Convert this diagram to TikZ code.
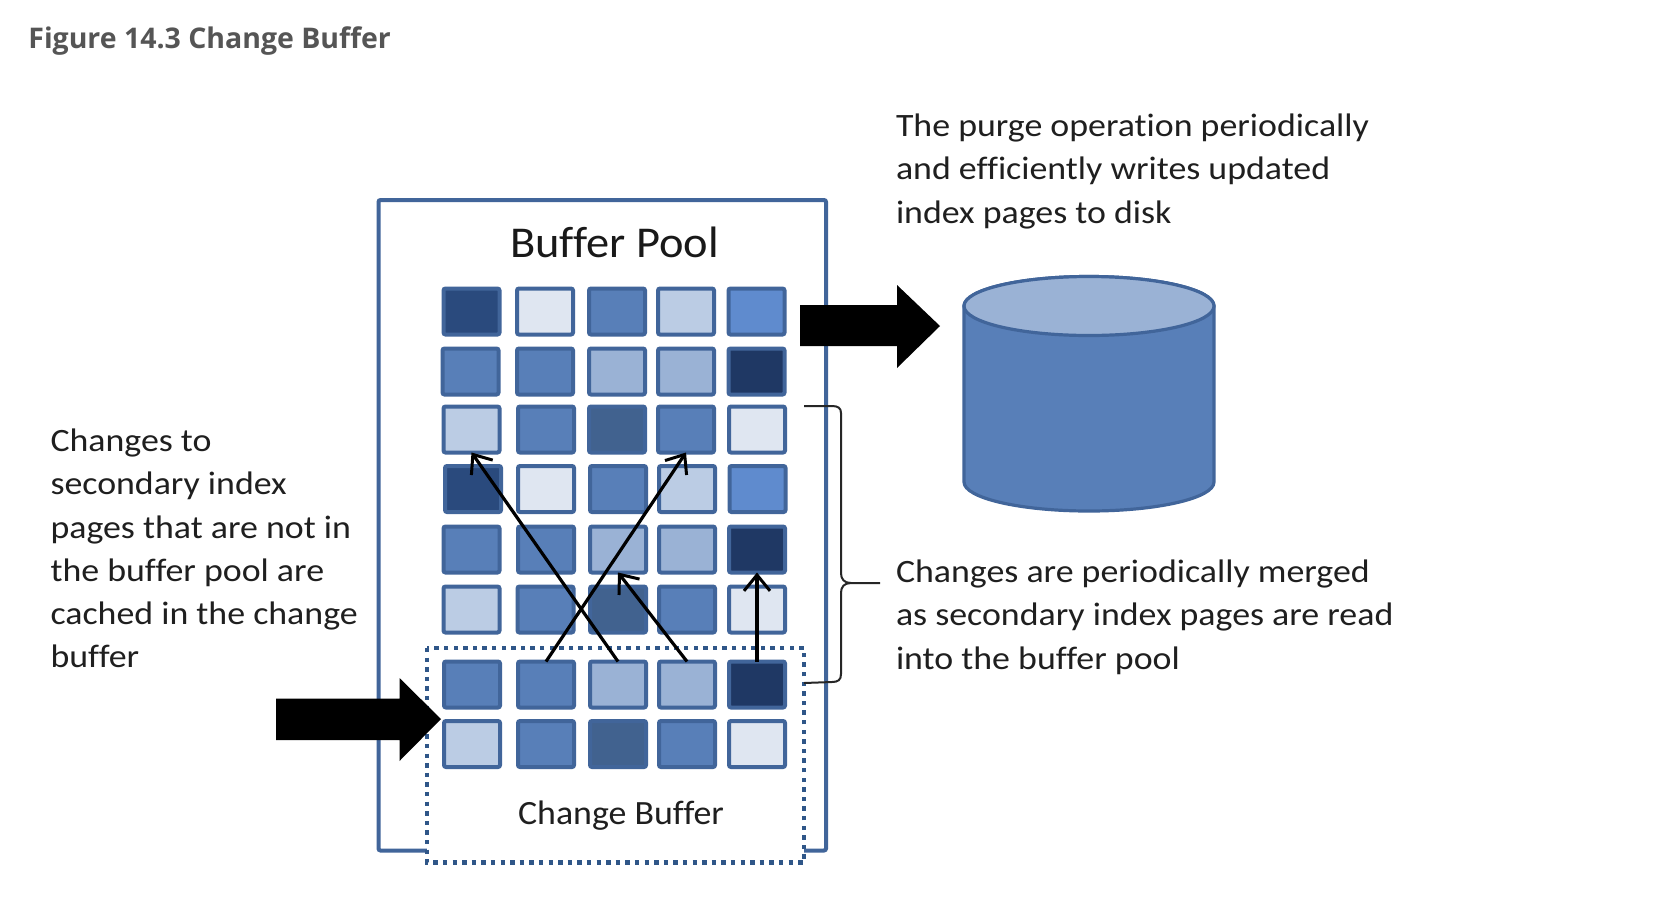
\documentclass[tikz,border=0pt]{standalone}
\usepackage{fontspec}
\setmainfont{Carlito}
\newfontfamily\titlefont{Open Sans}
\newfontfamily\bodyfont[FakeStretch=1.1,Ligatures=NoCommon]{Carlito}
\newfontfamily\poolfont[FakeStretch=1.055,Ligatures=NoCommon]{Carlito}
\usetikzlibrary{arrows.meta}
\definecolor{edgeblue}{HTML}{41659A}
\definecolor{dotblue}{HTML}{2F5688}
\definecolor{cDark}{HTML}{2A4A7D}
\definecolor{cNavy}{HTML}{1F3864}
\definecolor{cLight}{HTML}{DFE6F1}
\definecolor{cMid}{HTML}{587FB8}
\definecolor{cPale}{HTML}{BBCCE4}
\definecolor{cSky}{HTML}{5F8BCE}
\definecolor{cSoft}{HTML}{9AB2D5}
\definecolor{cSlate}{HTML}{41628F}
\definecolor{titlegray}{HTML}{555555}
\tikzset{
  x=0.5pt,y=-0.5pt,
  pagebox/.style={draw=edgeblue,line width=2pt,rounded corners=1pt,minimum width=28pt,minimum height=23pt,inner sep=0pt,outer sep=0pt},
  bodytext/.style={inner sep=0pt,outer sep=0pt,anchor=north west,align=left,font=\bodyfont\fontsize{16.3}{21.6}\selectfont,text=black!88},
  thinarrow/.style={draw=black,line width=1.6pt,-{Straight Barb[length=8pt,width=13pt,line width=1.5pt]}},
  bracket/.style={draw=black!85,line width=1pt},
  blockarrow/.style={fill=black,draw=none},
}
\begin{document}
\begin{tikzpicture}
\useasboundingbox (0,0) rectangle (1666,922);
\fill[white] (0,0) rectangle (1666,922);
\node[anchor=base west,inner sep=0pt,font=\titlefont\bfseries\fontsize{14.23}{16}\selectfont,text=titlegray] (title) at (28,48) {Figure 14.3 Change Buffer};
% frame
\draw[edgeblue,line width=2pt,rounded corners=1pt] (378.5,200) rectangle (826,850.5);
\node[anchor=base,inner sep=0pt,font=\poolfont\fontsize{22}{24}\selectfont,text=black!90] (pooltitle) at (614.5,257.5) {Buffer Pool};
% change buffer dotted box
\draw[dotblue,fill=white,line width=2.2pt,dash pattern=on 2.2pt off 2.6pt] (427,648) rectangle (804,862.5);
\node[anchor=base,inner sep=0pt,font=\poolfont\fontsize{17}{20}\selectfont,text=black!88] (cbtitle) at (621,824) {Change Buffer};
% pages
\foreach \r/\y/\xa/\xb/\xc/\xd/\xe/\ca/\cb/\cc/\cd/\ce in {
 1/311.5/471.5/545/617/686/756.5/cDark/cLight/cMid/cPale/cSky,
 2/371.5/470.5/545/617/686/756.5/cMid/cMid/cSoft/cSoft/cNavy,
 3/429.5/471.5/546/617/686/757/cPale/cMid/cSlate/cMid/cLight,
 4/489/473/546/618/687/757.5/cDark/cLight/cMid/cPale/cSky,
 5/549.5/471.5/546/618/687/757/cMid/cMid/cSoft/cSoft/cNavy,
 6/609.5/471.5/545.5/618/687/757/cPale/cMid/cSlate/cMid/cLight,
 7/684.5/472/546/618/687/757/cMid/cMid/cSoft/cSoft/cNavy,
 8/744/472/546/618/687/757/cPale/cMid/cSlate/cMid/cLight}{
  \node[pagebox,fill=\ca] (s\r1) at (\xa,\y) {};
  \node[pagebox,fill=\cb] (s\r2) at (\xb,\y) {};
  \node[pagebox,fill=\cc] (s\r3) at (\xc,\y) {};
  \node[pagebox,fill=\cd] (s\r4) at (\xd,\y) {};
  \node[pagebox,fill=\ce] (s\r5) at (\xe,\y) {};
}
% thin arrows
\draw[thinarrow] (s73.north) -- (s31.south);
\draw[thinarrow] (s72.north) -- (s34.south);
\draw[thinarrow] (s74.north) -- (s53.south);
\draw[thinarrow] (s75.north) -- (s55.south);
% block arrows
\fill[blockarrow] (276,698.5) -- (399.5,698.5) -- (399.5,678) -- (441,719) -- (399.5,761) -- (399.5,740) -- (276,740) -- cycle;
\fill[blockarrow] (800,305) -- (897,305) -- (897,285) -- (940,326) -- (897,368) -- (897,346) -- (800,346) -- cycle;
% cylinder
\draw[edgeblue,fill=cMid,line width=1.6pt] (964,306) -- (964,482) arc[start angle=180,end angle=0,x radius=125,y radius=29] -- (1214,306) arc[start angle=0,end angle=-180,x radius=125,y radius=29.5] -- cycle;
\draw[edgeblue,fill=cSoft,line width=1.6pt] (1089,306) ellipse[x radius=125,y radius=29.5];
% bracket
\coordinate (brA) at (804,406);
\coordinate (brB) at (804,683);
\coordinate (brT) at (880,583);
\draw[bracket] (brA) -- (832,406) .. controls (838,406) and (841,408) .. (841,413) -- (841,573) .. controls (841,579) and (844,583) .. (851,583) -- (brT) -- (851,583) .. controls (844,583) and (841,587) .. (841,593) -- (841,674) .. controls (841,680) and (838,682) .. (832,682) -- (brB);
% texts
\node[bodytext] (purge) at (896,114) {The purge operation periodically\\and efficiently writes updated\\index pages to disk};
\node[bodytext] (merge) at (896,560) {Changes are periodically merged\\as secondary index pages are read\\into the buffer pool};
\node[bodytext] (cached) at (50.5,429) {Changes to\\secondary index\\pages that are not in\\the buffer pool are\\cached in the change\\buffer};
\end{tikzpicture}
\end{document}
